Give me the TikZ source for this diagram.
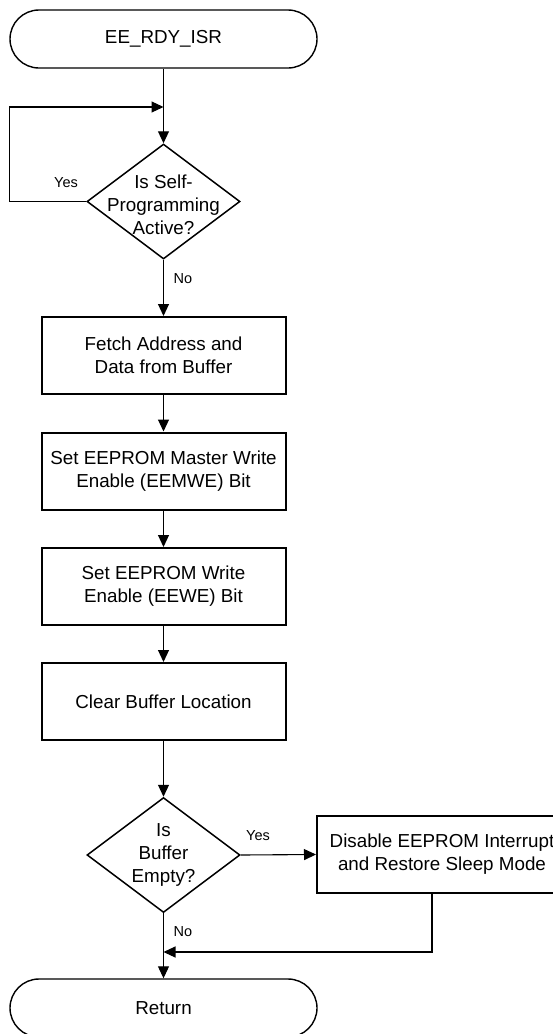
\documentclass[tikz,border=0pt]{standalone}
\usepackage{fontspec}
\setmainfont{Liberation Sans}
\usetikzlibrary{shapes.geometric,arrows.meta}
\newcommand\bodyfnt{\fontsize{18.8}{23}\selectfont}
\newcommand\lblfnt{\fontsize{14.5}{17}\selectfont}
\begin{document}
\begin{tikzpicture}[x=1pt,y=-1pt,
  term/.style={draw, line width=1.4pt, rounded corners=29pt, minimum width=307pt, minimum height=58pt, inner sep=0pt, font=\bodyfnt},
  proc/.style={draw, line width=2pt, minimum width=244pt, minimum height=77pt, inner sep=0pt, align=center, font=\bodyfnt},
  dec/.style={draw, diamond, line width=1.5pt, minimum width=153pt, minimum height=115pt, inner sep=0pt},
  dectext/.style={align=center, font=\bodyfnt, inner sep=0pt},
  lbl/.style={font=\lblfnt, inner sep=0pt},
  conn/.style={line width=1.1pt, -{Triangle[length=12pt,width=11pt]}}]
\useasboundingbox (0,0) rectangle (553,1034);
\clip (0,0) rectangle (553,1034);
\fill[white] (0,0) rectangle (553,1034);

\node[term] (start) at (163.5,39) {EE\_RDY\_ISR};
\node[dec] (d1) at (163.5,201.5) {};
\node[dectext] (d1t) at (163.5,205) {Is Self-\\Programming\\Active?};
\node[proc] (b1) at (163.5,355.5) {Fetch Address and\\Data from Buffer};
\node[proc] (b2) at (163.5,471) {Set EEPROM Master Write\\Enable (EEMWE) Bit};
\node[proc] (b3) at (163.5,586.5) {Set EEPROM Write\\Enable (EEWE) Bit};
\node[proc] (b4) at (163.5,701.5) {Clear Buffer Location};
\node[dec] (d2) at (163.5,855) {};
\node[dectext] (d2t) at (163.5,855) {Is\\Buffer\\Empty?};
\node[proc, minimum width=250pt] (dis) at (442,854.5) {Disable EEPROM Interrupt\\and Restore Sleep Mode};
\node[term] (ret) at (163.5,1008) {Return};

\coordinate (m1) at (163.5,107);
\coordinate (m2) at (163.5,952);

\draw[conn] (start.south) -- (d1.north);
\draw[conn] (d1.west) -- ++(-77,0) |- (m1);
\node[lbl] (yes1) at (66,183) {Yes};
\draw[conn] (d1.south) -- (b1.north);
\node[lbl] (no1) at (183,279) {No};
\draw[conn] (b1.south) -- (b2.north);
\draw[conn] (b2.south) -- (b3.north);
\draw[conn] (b3.south) -- (b4.north);
\draw[conn] (b4.south) -- (d2.north);
\draw[conn] (d2.east) -- (dis.west);
\node[lbl] (yes2) at (258,836) {Yes};
\draw[conn] (d2.south) -- (ret.north);
\node[lbl] (no2) at (183,932) {No};
\draw[conn] ([xshift=-10pt]dis.south) |- (m2);
\end{tikzpicture}
\end{document}
